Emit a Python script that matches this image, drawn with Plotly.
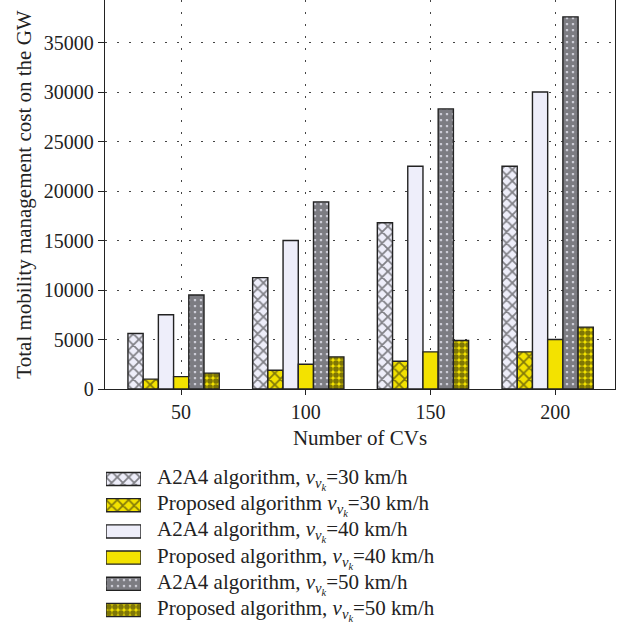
import plotly.graph_objects as go

categories = [50, 100, 150, 200]
a2a4_30 = [5600, 11250, 16800, 22500]
prop_30 = [1000, 1900, 2800, 3750]
a2a4_40 = [7500, 15000, 22500, 30000]
prop_40 = [1250, 2500, 3750, 5000]
a2a4_50 = [9500, 18900, 28300, 37600]
prop_50 = [1600, 3250, 4900, 6250]
y_ticks = [0, 5000, 10000, 15000, 20000, 25000, 30000, 35000]

nu = "<i>ν</i><sub><i>ν</i><sub><i>k</i></sub></sub>"
names = [
    f"A2A4 algorithm, {nu}=30 km/h",
    f"Proposed algorithm {nu}=30 km/h",
    f"A2A4 algorithm, {nu}=40 km/h",
    f"Proposed algorithm, {nu}=40 km/h",
    f"A2A4 algorithm, {nu}=50 km/h",
    f"Proposed algorithm, {nu}=50 km/h",
]
series = [a2a4_30, prop_30, a2a4_40, prop_40, a2a4_50, prop_50]
LAV = "#eeeefa"
YEL = "#f3e200"
styles = [
    dict(color=LAV, pattern=dict(shape="x", fgcolor="#111111", size=8, solidity=0.4)),
    dict(color=YEL, pattern=dict(shape="x", fgcolor="#111111", size=8, solidity=0.4)),
    dict(color=LAV),
    dict(color=YEL),
    dict(color=LAV, pattern=dict(shape=".", fgcolor="#0a0a0a", size=6, solidity=0.82)),
    dict(color=YEL, pattern=dict(shape=".", fgcolor="#0a0a0a", size=6, solidity=0.7)),
]
LINE = dict(color="#222222", width=1.4)

W, H = 643, 632
ML, MR = 105, 28
PW = W - ML - MR
plot_bottom_px = 389

bw = 6.1
start = -21.3
fig = go.Figure()
for i, (nm, vals, st) in enumerate(zip(names, series, styles)):
    fig.add_trace(go.Bar(
        x=categories, y=vals, name=nm, width=bw, offset=start + i * bw,
        marker=dict(line=LINE, **st), showlegend=False,
    ))

# legend drawn as swatch bars on a hidden helper axis + text annotations
row0, rowstep = 479, 26.2
for i, (nm, st) in enumerate(zip(names, styles)):
    fig.add_trace(go.Bar(
        x=[1], y=[i], orientation="h", width=0.5, base=0,
        marker=dict(line=LINE, **st), showlegend=False, hoverinfo="skip",
        xaxis="x2", yaxis="y2",
    ))
    cy = row0 + rowstep * i
    fig.add_annotation(
        text=nm, xref="paper", yref="paper",
        x=(155 - ML) / PW, y=(H - cy) / H, xanchor="left", yanchor="middle",
        showarrow=False, font=dict(size=21),
    )

font = dict(family="Liberation Serif, Times New Roman, serif", size=20, color="#222222")
grid = dict(showgrid=True, gridcolor="#444444", griddash="2px,10px", gridwidth=1)
fig.update_layout(
    width=W, height=H,
    margin=dict(l=ML, r=MR, t=0, b=0, autoexpand=False),
    plot_bgcolor="white", paper_bgcolor="white",
    font=font,
    barmode="overlay",
    showlegend=False,
    xaxis=dict(range=[19.5, 224], tickvals=categories, ticktext=[str(c) for c in categories],
               showline=True, linecolor="#222222", linewidth=1.3, mirror=False,
               ticks="outside", ticklen=5, tickcolor="#222222", anchor="y",
               title=dict(text="Number of CVs", standoff=8, font=dict(size=21)),
               zeroline=False, automargin=False, **grid),
    yaxis=dict(range=[0, 39300], tickvals=y_ticks, ticktext=[str(v) for v in y_ticks],
               domain=[(H - plot_bottom_px) / H, 1],
               showline=True, linecolor="#222222", linewidth=1.3, mirror=True,
               ticks="outside", ticklen=6, tickcolor="#222222",
               title=dict(text="Total mobility management cost on the GW", standoff=6,
                          font=dict(size=21)),
               zeroline=False, automargin=False, **grid),
    xaxis2=dict(domain=[(106 - ML) / PW, (141 - ML) / PW], range=[0, 1], anchor="y2",
                visible=False, fixedrange=True),
    yaxis2=dict(domain=[(H - (row0 + rowstep * 5.5)) / H, (H - (row0 - rowstep * 0.5)) / H],
                range=[5.5, -0.5], anchor="x2", visible=False, fixedrange=True),
)
fig.write_html("out.html")
